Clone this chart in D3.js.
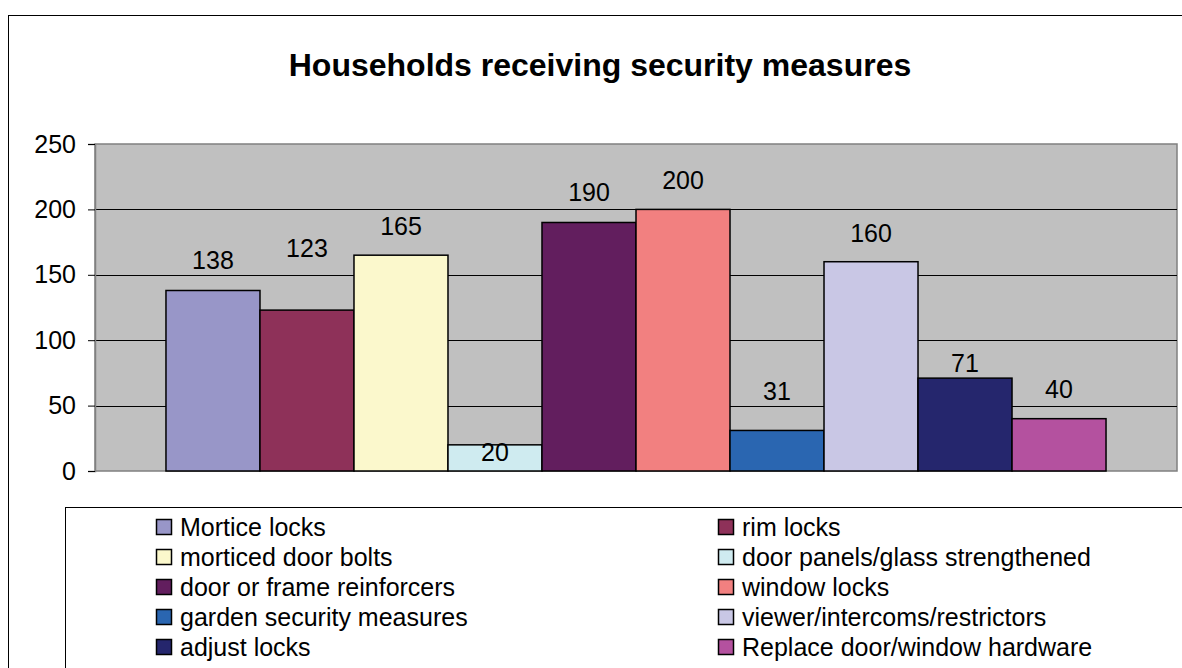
<!DOCTYPE html>
<html>
<head>
<meta charset="utf-8">
<script src="https://cdn.jsdelivr.net/npm/d3@7"></script>
<style>
  html, body { margin: 0; padding: 0; background: #fff; }
  svg { display: block; font-family: "Liberation Sans", Arial, sans-serif; }
</style>
</head>
<body>
<svg id="chart" width="1182" height="668"></svg>
<script>
const title = "Households receiving security measures";
const seriesNames = [
  "Mortice locks", "rim locks", "morticed door bolts", "door panels/glass strengthened",
  "door or frame reinforcers", "window locks", "garden security measures",
  "viewer/intercoms/restrictors", "adjust locks", "Replace door/window hardware"
];
const seriesValues = [138, 123, 165, 20, 190, 200, 31, 160, 71, 40];
const seriesColors = [
  "#9896C8", "#8E3159", "#FBF8CC", "#CFEBF0", "#621E5E",
  "#F28080", "#2A66B1", "#C9C7E5", "#25266D", "#B4519F"
];
const yTicks = [0, 50, 100, 150, 200, 250];
// label baseline nudges (px above bar top), as placed in the original chart
const labelNudges = [21, 53, 20, -16, 21, 20, 30, 20, 6, 21];

const svg = d3.select("#chart");
const W = 1182, H = 668;

// chart area border (extends past right/bottom edges)
svg.append("rect").attr("x", 8.5).attr("y", 15.5).attr("width", W + 20).attr("height", H + 20)
  .attr("fill", "#fff").attr("stroke", "#000").attr("stroke-width", 1);

// title
svg.append("text").attr("x", 600).attr("y", 76).attr("text-anchor", "middle")
  .attr("font-size", 32).attr("font-weight", "bold").attr("fill", "#000").text(title);

const plot = { left: 95, right: 1177, top: 144, bottom: 471 };
const y = d3.scaleLinear().domain([0, 250]).range([plot.bottom, plot.top]);
const x = d3.scaleBand().domain(seriesNames).range([plot.left, plot.right])
  .paddingInner(0).paddingOuter(0.755);

// plot background
svg.append("rect").attr("x", plot.left).attr("y", plot.top)
  .attr("width", plot.right - plot.left).attr("height", plot.bottom - plot.top)
  .attr("fill", "#C0C0C0").attr("stroke", "#808080").attr("stroke-width", 1.5);

// gridlines
svg.append("g").selectAll("line").data(yTicks.filter(t => t > 0 && t < 250)).join("line")
  .attr("x1", plot.left).attr("x2", plot.right)
  .attr("y1", d => Math.round(y(d)) + 0.5).attr("y2", d => Math.round(y(d)) + 0.5)
  .attr("stroke", "#000").attr("stroke-width", 1);

// y axis
const yAxis = d3.axisLeft(y).tickValues(yTicks).tickSize(7).tickPadding(12);
const gy = svg.append("g").attr("transform", `translate(${plot.left},0)`).call(yAxis);
gy.select(".domain").attr("stroke", "#808080").attr("stroke-width", 1.5);
gy.selectAll(".tick line").attr("stroke", "#000");
gy.selectAll(".tick text").attr("font-size", 25).attr("fill", "#000")
  .attr("font-family", "Liberation Sans, Arial, sans-serif");

// bars
svg.append("g").selectAll("rect").data(seriesNames).join("rect")
  .attr("x", d => x(d)).attr("width", x.bandwidth())
  .attr("y", (d, i) => y(seriesValues[i]))
  .attr("height", (d, i) => y(0) - y(seriesValues[i]))
  .attr("fill", (d, i) => seriesColors[i])
  .attr("stroke", "#000").attr("stroke-width", 1.5);

// value labels
svg.append("g").selectAll("text").data(seriesNames).join("text")
  .attr("x", d => x(d) + x.bandwidth() / 2)
  .attr("y", (d, i) => y(seriesValues[i]) - labelNudges[i])
  .attr("text-anchor", "middle").attr("font-size", 25).attr("fill", "#000")
  .text((d, i) => seriesValues[i]);

// legend
svg.append("rect").attr("x", 65.5).attr("y", 507.5).attr("width", W).attr("height", H)
  .attr("fill", "#fff").attr("stroke", "#000").attr("stroke-width", 1);

const legCols = [156, 718];
const legRow0 = 527, legPitch = 30, mk = 15;
const leg = svg.append("g").selectAll("g").data(seriesNames).join("g")
  .attr("transform", (d, i) => `translate(${legCols[i % 2]},${legRow0 + Math.floor(i / 2) * legPitch})`);
leg.append("rect").attr("x", 0.5).attr("y", -mk / 2).attr("width", mk).attr("height", mk)
  .attr("fill", (d, i) => seriesColors[i]).attr("stroke", "#000").attr("stroke-width", 1.5);
leg.append("text").attr("x", 24).attr("y", 0).attr("dy", "0.36em")
  .attr("font-size", 25).attr("fill", "#000").text(d => d);
</script>
</body>
</html>
